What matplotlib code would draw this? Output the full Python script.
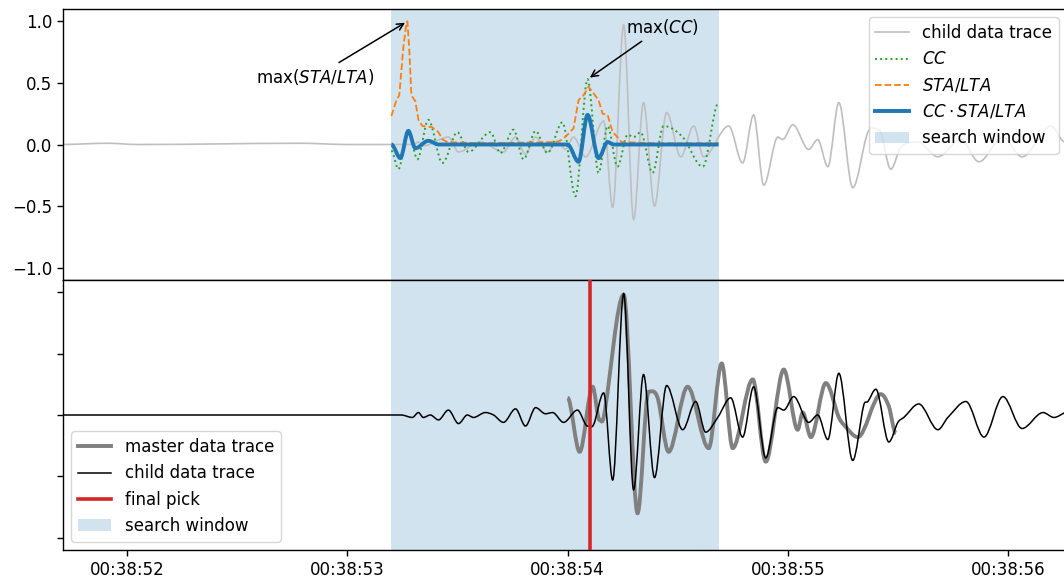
import numpy as np
import matplotlib
matplotlib.use("Agg")
import matplotlib.pyplot as plt
from matplotlib.path import Path
from matplotlib.patches import PathPatch, Patch
from matplotlib.lines import Line2D
from matplotlib.ticker import FuncFormatter, MultipleLocator

plt.rcParams.update({
    "font.size": 12,
    "xtick.major.size": 4.3,
    "ytick.major.size": 4.3,
    "xtick.major.width": 1.0,
    "ytick.major.width": 1.0,
    "axes.linewidth": 1.0,
})

# Times are seconds after 00:38:00; amplitudes are normalised.
# --- upper panel -----------------------------------------------------------
child_top_t = [51.70, 51.91, 52.05, 52.79, 53.00, 53.30, 53.323, 53.345, 53.459, 53.505,
               53.605, 53.709, 53.764, 53.809, 53.855, 53.909, 53.955, 53.990, 54.027,
               54.082, 54.164, 54.205, 54.255, 54.300, 54.345, 54.395, 54.450, 54.514,
               54.573, 54.618, 54.732, 54.795, 54.845, 54.891, 54.955, 54.977, 55.023,
               55.095, 55.136, 55.182, 55.232, 55.295, 55.364, 55.414, 55.468, 55.514,
               55.591, 55.682, 55.786, 55.868, 55.977, 56.064, 56.195, 56.259, 56.30]
child_top_v = [0.0, 0.01, 0.0, 0.01, 0.0, 0.0, 0.02, -0.01, 0.06, -0.06,
               0.02, -0.06, 0.06, -0.08, 0.06, -0.06, 0.03, -0.04, 0.06,
               -0.10, 0.19, -0.51, 0.97, -0.61, 0.34, -0.50, 0.26, -0.10,
               0.15, -0.10, 0.15, -0.15, 0.24, -0.33, 0.06, 0.04, 0.16,
               -0.04, 0.04, -0.18, 0.34, -0.35, 0.10, 0.12, -0.20, -0.02,
               0.02, -0.10, 0.04, -0.14, 0.06, -0.10, 0.15, 0.02, 0.05]

cc_t = [53.200, 53.232, 53.277, 53.318, 53.368, 53.432, 53.500, 53.550, 53.650, 53.695,
        53.755, 53.800, 53.855, 53.909, 53.977, 54.036, 54.091, 54.141, 54.182, 54.227,
        54.273, 54.300, 54.332, 54.386, 54.436, 54.523, 54.614, 54.686]
cc_v = [-0.05, -0.20, 0.12, -0.12, 0.20, -0.15, 0.10, -0.06, 0.10, -0.07,
        0.12, -0.12, 0.11, -0.07, 0.18, -0.42, 0.53, -0.23, 0.15, -0.18,
        0.08, 0.06, 0.10, -0.23, 0.15, 0.06, -0.18, 0.34]

stalta_t = [53.200, 53.223, 53.236, 53.255, 53.268, 53.273, 53.282, 53.291, 53.309, 53.323,
            53.341, 53.386, 53.414, 53.432, 53.455, 53.600, 53.950, 53.977, 54.000, 54.027,
            54.050, 54.073, 54.095, 54.141, 54.159, 54.182, 54.205, 54.227, 54.245, 54.400,
            54.686]
stalta_v = [0.23, 0.36, 0.40, 0.80, 0.98, 1.00, 0.75, 0.40, 0.35, 0.20,
            0.15, 0.14, 0.10, 0.04, 0.02, 0.01, 0.02, 0.04, 0.08, 0.13,
            0.36, 0.40, 0.47, 0.36, 0.25, 0.24, 0.10, 0.06, 0.02, 0.01,
            0.01]

prod_t = [53.200, 53.241, 53.277, 53.309, 53.368, 53.414, 54.000, 54.050, 54.091, 54.141,
          54.182, 54.209, 54.686]
prod_v = [0.0, -0.11, 0.11, -0.03, 0.03, 0.0, 0.0, -0.14, 0.24, -0.11,
          0.02, 0.0, 0.0]

# --- lower panel -----------------------------------------------------------
child_t = [51.70, 53.245, 53.295, 53.323, 53.345, 53.377, 53.414, 53.459, 53.505, 53.545,
           53.573, 53.627, 53.664, 53.709, 53.764, 53.809, 53.855, 53.900, 53.932, 53.982,
           54.045, 54.091, 54.118, 54.164, 54.205, 54.255, 54.300, 54.345, 54.395, 54.450,
           54.523, 54.582, 54.627, 54.682, 54.741, 54.795, 54.845, 54.900, 54.955, 54.982,
           55.027, 55.095, 55.136, 55.182, 55.232, 55.295, 55.345, 55.364, 55.400, 55.459,
           55.500, 55.527, 55.595, 55.682, 55.727, 55.809, 55.891, 55.977, 56.064, 56.159,
           56.209, 56.259, 56.30]
child_v = [0.0, 0.0, -0.02, 0.02, -0.02, 0.0, -0.04, 0.04, -0.07, 0.0,
           -0.02, 0.02, 0.0, -0.06, 0.05, -0.09, 0.06, 0.01, 0.02, -0.06,
           0.04, -0.09, -0.08, 0.18, -0.53, 0.99, -0.61, 0.33, -0.51, 0.24,
           -0.12, 0.11, -0.14, -0.02, 0.14, -0.18, 0.23, -0.35, 0.06, 0.04,
           0.15, -0.06, 0.0, -0.20, 0.34, -0.37, 0.08, 0.11, 0.21, -0.22,
           -0.06, -0.02, 0.09, -0.12, -0.02, 0.11, -0.18, 0.15, -0.11, 0.02,
           -0.02, 0.02, 0.05]

master_t = [54.000, 54.055, 54.114, 54.145, 54.164, 54.255, 54.318, 54.368, 54.409, 54.459,
            54.545, 54.641, 54.700, 54.750, 54.841, 54.900, 54.982, 55.045, 55.068, 55.105,
            55.173, 55.232, 55.255, 55.318, 55.423, 55.459, 55.491]
master_v = [0.14, -0.30, 0.23, -0.04, -0.02, 0.98, -0.80, 0.19, 0.14, -0.30,
            0.23, -0.27, 0.42, -0.27, 0.29, -0.38, 0.37, -0.12, 0.02, -0.18,
            0.26, -0.02, -0.08, -0.18, 0.17, 0.07, -0.15]

window = (53.20, 54.69)
final_pick = 54.10
max_stalta = (53.273, 1.00)
max_cc = (54.091, 0.53)
xlim = (51.709, 56.268)


def smooth_path(t, v):
    """Cubic Bezier path through the given knots, flat at turning points."""
    t = np.asarray(t, float)
    v = np.asarray(v, float)
    n = len(t)
    slope = np.zeros(n)
    for i in range(1, n - 1):
        if (v[i] - v[i - 1]) * (v[i + 1] - v[i]) > 0:
            slope[i] = (v[i + 1] - v[i - 1]) / (t[i + 1] - t[i - 1])
    verts = [(t[0], v[0])]
    codes = [Path.MOVETO]
    for i in range(n - 1):
        d = (t[i + 1] - t[i]) / 3.0
        verts += [(t[i] + d, v[i] + slope[i] * d),
                  (t[i + 1] - d, v[i + 1] - slope[i + 1] * d),
                  (t[i + 1], v[i + 1])]
        codes += [Path.CURVE4] * 3
    return Path(verts, codes)


def add_trace(ax, t, v, **kw):
    ax.add_patch(PathPatch(smooth_path(t, v), fill=False, **kw))


win_color = "tab:blue"
win_alpha = 0.2

fig = plt.figure(figsize=(10.64, 5.83), dpi=100)
W, H = 1064.0, 583.0
left, right = 63 / W, 1067 / W
ax1 = fig.add_axes([left, 1 - 280 / H, right - left, 271 / H])
ax2 = fig.add_axes([left, 1 - 550 / H, right - left, 270 / H], sharex=ax1)

# upper panel
ax1.axvspan(*window, color=win_color, alpha=win_alpha, lw=0, zorder=0)
add_trace(ax1, child_top_t, child_top_v, edgecolor="0.75", lw=1.2, zorder=2)
add_trace(ax1, cc_t, cc_v, edgecolor="tab:green", lw=1.4, linestyle=":", zorder=3)
ax1.plot(stalta_t, stalta_v, color="tab:orange", lw=1.3, ls="--", zorder=4)
add_trace(ax1, prod_t, prod_v, edgecolor="tab:blue", lw=2.8, zorder=5)

ax1.annotate(r"max($STA/LTA$)", xy=max_stalta, xytext=(52.855, 0.55),
             ha="center", va="center",
             arrowprops=dict(arrowstyle="->", color="black", lw=1.1))
ax1.annotate(r"max($CC$)", xy=max_cc, xytext=(54.43, 0.955),
             ha="center", va="center",
             arrowprops=dict(arrowstyle="->", color="black", lw=1.1))

ax1.set_ylim(-1.1, 1.1)
ax1.set_yticks([-1.0, -0.5, 0.0, 0.5, 1.0])
ax1.tick_params(axis="x", which="both", bottom=False, labelbottom=False)
ax1.spines["right"].set_visible(False)

h1 = [Line2D([], [], color="0.75", lw=1.2),
      Line2D([], [], color="tab:green", lw=1.4, ls=":"),
      Line2D([], [], color="tab:orange", lw=1.3, ls="--"),
      Line2D([], [], color="tab:blue", lw=2.8),
      Patch(facecolor=win_color, alpha=win_alpha)]
l1 = ["child data trace", r"$CC$", r"$STA/LTA$", r"$CC \cdot STA/LTA$", "search window"]
ax1.legend(h1, l1, loc="upper right")

# lower panel
ax2.axvspan(*window, color=win_color, alpha=win_alpha, lw=0, zorder=0)
add_trace(ax2, master_t, master_v, edgecolor="gray", lw=2.8, zorder=2)
add_trace(ax2, child_t, child_v, edgecolor="black", lw=1.1, zorder=3)
ax2.axvline(final_pick, color="tab:red", lw=2.6, zorder=4)

ax2.set_ylim(-1.1, 1.1)
ax2.set_yticks([-1.0, -0.5, 0.0, 0.5, 1.0])
ax2.set_yticklabels([])
ax2.spines["right"].set_visible(False)

h2 = [Line2D([], [], color="gray", lw=2.8),
      Line2D([], [], color="black", lw=1.1),
      Line2D([], [], color="tab:red", lw=2.6),
      Patch(facecolor=win_color, alpha=win_alpha)]
l2 = ["master data trace", "child data trace", "final pick", "search window"]
ax2.legend(h2, l2, loc="lower left")

ax2.set_xlim(*xlim)
ax2.xaxis.set_major_locator(MultipleLocator(1.0))
ax2.xaxis.set_major_formatter(FuncFormatter(lambda s, _: f"00:38:{int(round(s)):02d}"))

fig.savefig("out.png", dpi=100)
